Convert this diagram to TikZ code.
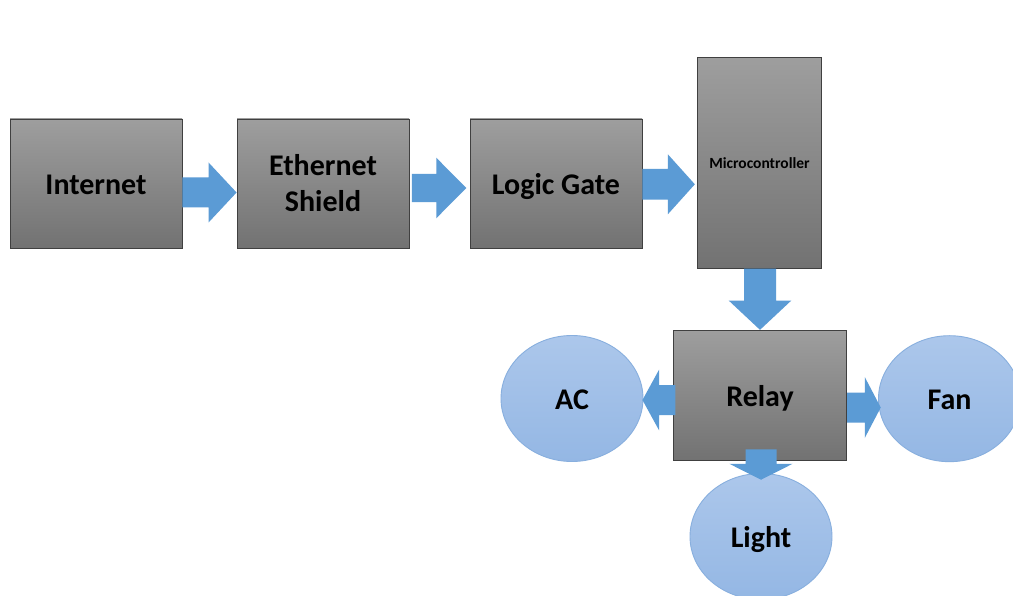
\documentclass[tikz,border=0pt]{standalone}
\usepackage{fontspec}
\setmainfont{Carlito}
\usetikzlibrary{calc,shapes.geometric}
\definecolor{boxtop}{RGB}{158,158,158}
\definecolor{boxbot}{RGB}{114,114,114}
\definecolor{boxline}{RGB}{64,64,64}
\definecolor{elltop}{RGB}{172,199,235}
\definecolor{ellbot}{RGB}{148,183,228}
\definecolor{ellline}{RGB}{136,175,222}
\definecolor{arrowblue}{RGB}{91,155,213}
\tikzset{
  graybox/.style={draw=boxline, line width=0.9pt, top color=boxtop, bottom color=boxbot,
    font=\fontsize{30}{36}\selectfont\bfseries, align=center, inner sep=0pt},
  blueell/.style={ellipse, draw=ellline, line width=0.9pt, top color=elltop, bottom color=ellbot,
    font=\fontsize{30}{36}\selectfont\bfseries, inner sep=0pt},
  oneline/.style={text height=24pt, text depth=2pt},
  barrow/.style={fill=arrowblue}
}
% horizontal block arrow: #1 start, #2 tip, #3 y(px), #4 shaft half, #5 head half, #6 head length, #7 dir (1 right, -1 left)
\newcommand\hblock[7]{%
  \fill[barrow] let \p1=(#1), \p2=(#2) in
    (\x1,{-#3pt+#4pt}) -- ({\x2-(#7)*#6pt},{-#3pt+#4pt}) -- ({\x2-(#7)*#6pt},{-#3pt+#5pt})
    -- (\x2,{-#3pt}) -- ({\x2-(#7)*#6pt},{-#3pt-#5pt}) -- ({\x2-(#7)*#6pt},{-#3pt-#4pt})
    -- (\x1,{-#3pt-#4pt}) -- cycle;}
% vertical (downward) block arrow: #1 start, #2 tip, #3 x(px), #4 shaft half, #5 head half, #6 head length
\newcommand\vblock[6]{%
  \fill[barrow] let \p1=(#1), \p2=(#2) in
    ({#3pt-#4pt},\y1) -- ({#3pt-#4pt},{\y2+#6pt}) -- ({#3pt-#5pt},{\y2+#6pt})
    -- ({#3pt},\y2) -- ({#3pt+#5pt},{\y2+#6pt}) -- ({#3pt+#4pt},{\y2+#6pt})
    -- ({#3pt+#4pt},\y1) -- cycle;}
\begin{document}
\begin{tikzpicture}[x=1pt,y=-1pt]
\useasboundingbox (0,0) rectangle (1013,596);
\clip (0,0) rectangle (1013,596);
\fill[white] (0,0) rectangle (1013,596);

\node[graybox, oneline, minimum width=172pt, minimum height=129pt] (inet) at (96,183.5) {Internet};
\node[graybox, minimum width=172pt, minimum height=129pt] (eth) at (323,183.5) {Ethernet\\Shield};
\node[graybox, oneline, minimum width=172pt, minimum height=129pt] (logic) at (556,183.5) {Logic Gate};
\node[graybox, minimum width=124.4pt, minimum height=211pt, font=\fontsize{15.5}{18}\selectfont\bfseries, text height=12pt, text depth=1pt] (micro) at (759.5,162.8) {Microcontroller};
\node[graybox, oneline, minimum width=173.4pt, minimum height=130pt] (relay) at (760,395.3) {Relay};

\node[blueell, oneline, minimum width=142pt, minimum height=126pt] (ac) at (572,398.5) {AC};
\node[blueell, oneline, minimum width=142pt, minimum height=126pt] (fan) at (949.5,398.7) {Fan};
\node[blueell, oneline, minimum width=142pt, minimum height=126pt] (light) at (761,536.5) {Light};

\hblock{inet.east}{eth.west}{192.5}{15}{30}{28}{1}
\hblock{$(eth.east)+(2.5,0)$}{$(logic.west)+(-3.3,0)$}{188}{14.2}{30.3}{30}{1}
\hblock{logic.east}{$(micro.west)+(-2,0)$}{184.3}{15.3}{30}{27}{1}
\vblock{micro.south}{relay.north}{760}{16}{31.3}{29.3}
\hblock{$(relay.west)+(2.4,0)$}{$(ac.east)+(-1,0)$}{400}{15}{30.3}{16.6}{-1}
\hblock{relay.east}{$(fan.west)+(2.7,0)$}{407.5}{15}{30.5}{16}{1}
\vblock{$(relay.south)+(0,-11.3)$}{$(light.north)+(0,6.7)$}{761}{15.5}{31.7}{16}
\end{tikzpicture}
\end{document}
